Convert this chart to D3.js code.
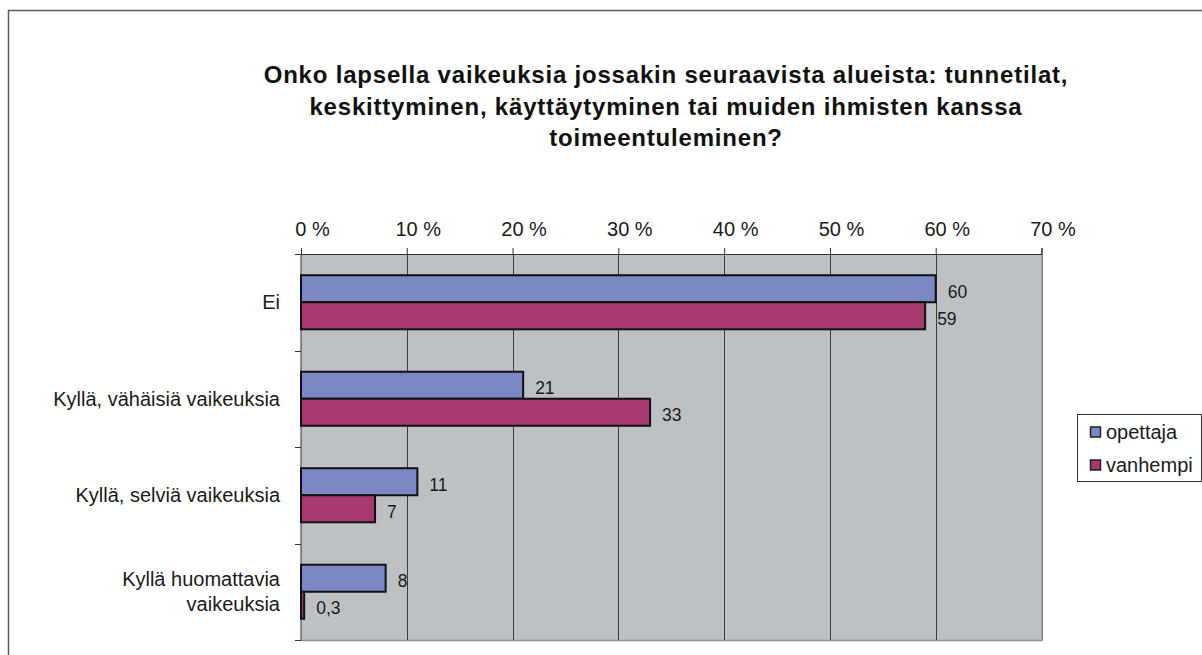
<!DOCTYPE html>
<html>
<head>
<meta charset="utf-8">
<script src="https://cdn.jsdelivr.net/npm/d3@7"></script>
<style>
  body { margin: 0; background: #fff; }
  svg text { font-family: Arial, "Liberation Sans", sans-serif; fill: #1a1a1a; }
</style>
</head>
<body>
<div id="chart"></div>
<script>
const titleLines = [
  "Onko lapsella vaikeuksia jossakin seuraavista alueista: tunnetilat,",
  "keskittyminen, käyttäytyminen tai muiden ihmisten kanssa",
  "toimeentuleminen?"
];
const categories = ["Ei", "Kyllä, vähäisiä vaikeuksia", "Kyllä, selviä vaikeuksia", "Kyllä huomattavia vaikeuksia"];
const seriesNames = ["opettaja", "vanhempi"];
const opettaja = [60, 21, 11, 8];
const vanhempi = [59, 33, 7, 0.3];
const xTicks = [0, 10, 20, 30, 40, 50, 60, 70];
const colors = ["#7b88c4", "#a63a6f"];

const width = 1202, height = 655;
const plot = { left: 301, right: 1041.5, top: 254, bottom: 640 };

const svg = d3.select("#chart").append("svg")
  .attr("width", width)
  .attr("height", height);

// outer chart border
svg.append("rect")
  .attr("x", 8.5).attr("y", 10.5)
  .attr("width", 1300).attr("height", 800)
  .attr("fill", "#fff")
  .attr("stroke", "#5c5c5c")
  .attr("stroke-width", 1.5);

// title
svg.append("text")
  .attr("x", 666)
  .attr("y", 83)
  .attr("text-anchor", "middle")
  .style("font-size", "24px")
  .style("letter-spacing", "0.8px")
  .style("font-weight", "bold")
  .style("fill", "#111")
  .selectAll("tspan")
  .data(titleLines)
  .enter()
  .append("tspan")
  .attr("x", 666)
  .attr("dy", (d, i) => i === 0 ? 0 : 31.5)
  .text(d => d);

const x = d3.scaleLinear().domain([0, 70]).range([plot.left, plot.right]);
const y = d3.scaleBand().domain(categories).range([plot.top, plot.bottom])
  .paddingInner(0.44).paddingOuter(0.22);
const ySub = d3.scaleBand().domain(seriesNames).range([0, y.bandwidth()]);

// plot background
svg.append("rect")
  .attr("x", plot.left).attr("y", plot.top)
  .attr("width", plot.right - plot.left)
  .attr("height", plot.bottom - plot.top)
  .attr("fill", "#bdc1c4");

// plot bottom / right edge shadow
svg.append("path")
  .attr("d", "M" + plot.left + "," + (plot.bottom + 0.5) + "H" + (plot.right + 0.5) + "V" + plot.top)
  .attr("fill", "none")
  .attr("stroke", "#8d9194")
  .attr("stroke-width", 1.5);

// gridlines
svg.selectAll(".grid")
  .data(xTicks.slice(1))
  .enter()
  .append("line")
  .attr("class", "grid")
  .attr("x1", d => Math.round(x(d)) + 0.5)
  .attr("x2", d => Math.round(x(d)) + 0.5)
  .attr("y1", plot.top)
  .attr("y2", plot.bottom)
  .attr("stroke", d => d === 70 ? "#7c8083" : "#3c3c3c")
  .attr("stroke-width", 1);

// top axis
const xAxis = svg.append("g")
  .attr("transform", "translate(0," + plot.top + ")")
  .call(d3.axisTop(x).tickValues(xTicks).tickSize(6).tickPadding(12)
    .tickFormat(d => d + " %"));
xAxis.select(".domain").attr("stroke", "#333");
xAxis.selectAll(".tick line").attr("stroke", "#333");
xAxis.selectAll(".tick text")
  .attr("dx", 11)
  .style("font-size", "20px")
  .style("font-family", "Arial, 'Liberation Sans', sans-serif")
  .attr("fill", "#1a1a1a");

// left axis line and ticks between categories
const boundaries = d3.range(categories.length + 1).map(i => plot.top + i * y.step());
svg.append("line")
  .attr("x1", plot.left).attr("x2", plot.left)
  .attr("y1", plot.top).attr("y2", plot.bottom)
  .attr("stroke", "#333");
svg.selectAll(".ytick")
  .data(boundaries)
  .enter()
  .append("line")
  .attr("class", "ytick")
  .attr("x1", plot.left - 6).attr("x2", plot.left)
  .attr("y1", d => Math.round(d) + 0.5).attr("y2", d => Math.round(d) + 0.5)
  .attr("stroke", "#333");

// category labels (wrapped)
const catLabels = svg.selectAll(".cat")
  .data(categories)
  .enter()
  .append("text")
  .attr("class", "cat")
  .attr("text-anchor", "end")
  .style("font-size", "20px");

catLabels.each(function(d) {
  const t = d3.select(this);
  const words = d.split(" ");
  const lines = [];
  let line = [];
  const probe = t.append("tspan");
  words.forEach(function(w) {
    line.push(w);
    probe.text(line.join(" "));
    if (probe.node().getComputedTextLength() > 240 && line.length > 1) {
      line.pop();
      lines.push(line.join(" "));
      line = [w];
    }
  });
  lines.push(line.join(" "));
  probe.remove();
  const cy = y(d) + y.bandwidth() / 2;
  const lh = 25;
  lines.forEach(function(l, i) {
    t.append("tspan")
      .attr("x", 280)
      .attr("y", cy + (i - (lines.length - 1) / 2) * lh + 7)
      .text(l);
  });
});

// bars
const rows = categories.map((c, i) => ({ cat: c, values: [opettaja[i], vanhempi[i]] }));

const groups = svg.selectAll(".row")
  .data(rows)
  .enter()
  .append("g")
  .attr("class", "row")
  .attr("transform", d => "translate(0," + y(d.cat) + ")");

groups.selectAll("rect")
  .data(d => d.values.map((v, j) => ({ name: seriesNames[j], value: v, idx: j })))
  .enter()
  .append("rect")
  .attr("x", x(0))
  .attr("y", d => ySub(d.name))
  .attr("width", d => x(d.value) - x(0))
  .attr("height", ySub.bandwidth())
  .attr("fill", d => colors[d.idx])
  .attr("stroke", "#111")
  .attr("stroke-width", 2);

const fmt = v => String(v).replace(".", ",");

groups.selectAll(".val")
  .data(d => d.values.map((v, j) => ({ name: seriesNames[j], value: v })))
  .enter()
  .append("text")
  .attr("class", "val")
  .attr("x", d => x(d.value) + 12)
  .attr("y", d => ySub(d.name) + ySub.bandwidth() / 2 + 9)
  .style("font-size", "17.5px")
  .text(d => fmt(d.value));

// legend
const legend = svg.append("g").attr("transform", "translate(1077,414)");
legend.append("rect")
  .attr("x", 0.5).attr("y", 0.5)
  .attr("width", 124).attr("height", 67)
  .attr("fill", "#fff")
  .attr("stroke", "#333");

const items = legend.selectAll(".item")
  .data(seriesNames)
  .enter()
  .append("g")
  .attr("class", "item")
  .attr("transform", (d, i) => "translate(13," + (18 + i * 33) + ")");

items.append("rect")
  .attr("x", 0.5).attr("y", -5)
  .attr("width", 10).attr("height", 10)
  .attr("fill", (d, i) => colors[i])
  .attr("stroke", "#222")
  .attr("stroke-width", 1.5);

items.append("text")
  .attr("x", 16)
  .attr("y", 7)
  .style("font-size", "20px")
  .text(d => d);
</script>
</body>
</html>
